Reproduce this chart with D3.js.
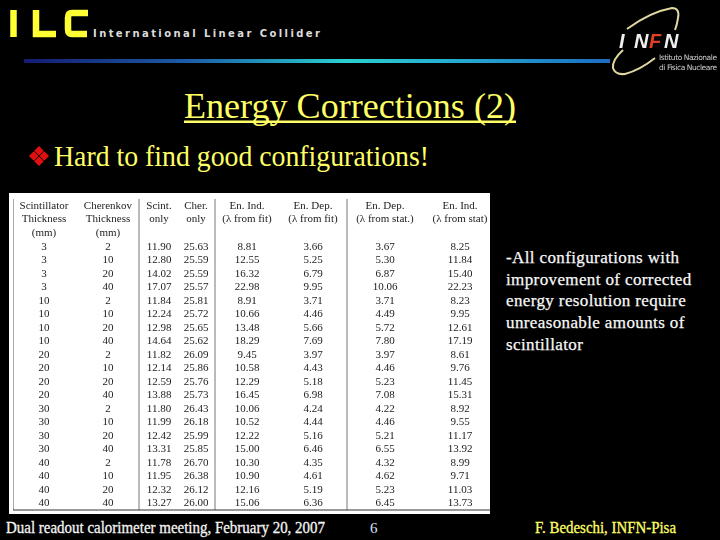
<!DOCTYPE html>
<html>
<head>
<meta charset="utf-8">
<script src="https://cdn.jsdelivr.net/npm/d3@7"></script>
<style>
html, body { margin: 0; padding: 0; background: #000; }
svg { display: block; }
text { font-family: "Liberation Serif", serif; }
</style>
</head>
<body>
<svg id="slide" width="720" height="540"></svg>
<script>
var scintThickness = [3, 3, 3, 3, 10, 10, 10, 10, 20, 20, 20, 20, 30, 30, 30, 30, 40, 40, 40, 40]
var cherThickness = [2, 10, 20, 40, 2, 10, 20, 40, 2, 10, 20, 40, 2, 10, 20, 40, 2, 10, 20, 40]
var scintOnly = ["11.90", "12.80", "14.02", "17.07", "11.84", "12.24", "12.98", "14.64", "11.82", "12.14", "12.59", "13.88", "11.80", "11.99", "12.42", "13.31", "11.78", "11.95", "12.32", "13.27"]
var cherOnly = ["25.63", "25.59", "25.59", "25.57", "25.81", "25.72", "25.65", "25.62", "26.09", "25.86", "25.76", "25.73", "26.43", "26.18", "25.99", "25.85", "26.70", "26.38", "26.12", "26.00"]
var enIndFit = ["8.81", "12.55", "16.32", "22.98", "8.91", "10.66", "13.48", "18.29", "9.45", "10.58", "12.29", "16.45", "10.06", "10.52", "12.22", "15.00", "10.30", "10.90", "12.16", "15.06"]
var enDepFit = ["3.66", "5.25", "6.79", "9.95", "3.71", "4.46", "5.66", "7.69", "3.97", "4.43", "5.18", "6.98", "4.24", "4.44", "5.16", "6.46", "4.35", "4.61", "5.19", "6.36"]
var enDepStat = ["3.67", "5.30", "6.87", "10.06", "3.71", "4.49", "5.72", "7.80", "3.97", "4.46", "5.23", "7.08", "4.22", "4.46", "5.21", "6.55", "4.32", "4.62", "5.23", "6.45"]
var enIndStat = ["8.25", "11.84", "15.40", "22.23", "8.23", "9.95", "12.61", "17.19", "8.61", "9.76", "11.45", "15.31", "8.92", "9.55", "11.17", "13.92", "8.99", "9.71", "11.03", "13.73"]

var columns = [scintThickness, cherThickness, scintOnly, cherOnly, enIndFit, enDepFit, enDepStat, enIndStat]
var headers = [
    ["Scintillator", "Thickness", "(mm)"],
    ["Cherenkov", "Thickness", "(mm)"],
    ["Scint.", "only"],
    ["Cher.", "only"],
    ["En. Ind.", "(\u03bb from fit)"],
    ["En. Dep.", "(\u03bb from fit)"],
    ["En. Dep.", "(\u03bb from stat.)"],
    ["En. Ind.", "(\u03bb from stat)"]
]
var bodyLines = ["-All configurations with", "improvement of corrected", "energy resolution require", "unreasonable amounts of", "scintillator"]

var svg = d3.select("#slide")
var defs = svg.append("defs")

var grad = defs.append("linearGradient").attr("id", "bar")
grad.append("stop").attr("offset", "0").attr("stop-color", "#141c70")
grad.append("stop").attr("offset", "0.28").attr("stop-color", "#1c5ca8")
grad.append("stop").attr("offset", "0.55").attr("stop-color", "#2ad0d0")
grad.append("stop").attr("offset", "0.75").attr("stop-color", "#26a8d0")
grad.append("stop").attr("offset", "1").attr("stop-color", "#1c6cc0")

defs.append("filter").attr("id", "soft")
    .append("feGaussianBlur").attr("stdDeviation", 0.35)

// header
var ilc = svg.append("g").attr("fill", "none").attr("stroke", "#ffff33").attr("stroke-width", 6.5)
ilc.append("path").attr("d", "M13.5 10V37")
ilc.append("path").attr("d", "M36 10V34H56")
ilc.append("path").attr("d", "M88 13H72Q68 13 68 18V29Q68 34 72 34H87")

svg.append("text").attr("x", 93).attr("y", 37)
    .attr("fill", "#dcdcdc")
    .attr("font-size", 10).attr("font-weight", "bold")
    .style("font-family", "DejaVu Sans")
    .attr("textLength", 227)
    .text("International Linear Collider")

svg.append("rect").attr("x", 24).attr("y", 59).attr("width", 586).attr("height", 4).attr("fill", "url(#bar)")

// INFN logo
var logo = svg.append("g").attr("filter", "url(#soft)")
logo.append("path").attr("fill", "none").attr("stroke", "#e0d8a0").attr("stroke-width", 2)
    .attr("d", "M627 29Q650 12 672 8Q680 8 678 18Q677 25 675 30")
logo.append("path").attr("fill", "none").attr("stroke", "#e0d8a0").attr("stroke-width", 2)
    .attr("d", "M623 50Q612 60 613 68Q615 75 625 74Q640 70 655 58")
var infnLetters = ["I", "N", "F", "N"]
var infnX = d3.scalePoint().domain(d3.range(4)).range([619, 664])
logo.selectAll("text.infn").data(infnLetters).enter().append("text")
    .attr("class", "infn")
    .attr("x", function(d, i) { return infnX(i) })
    .attr("y", 48)
    .attr("font-size", 20).attr("font-weight", "bold").attr("font-style", "italic")
    .style("font-family", "Liberation Sans")
    .attr("fill", function(d, i) { return i == 2 ? "#e04020" : "#f0f0f0" })
    .text(function(d) { return d })
logo.append("text").attr("x", 659).attr("y", 60).attr("font-size", 7.5).attr("fill", "#d0d0d0")
    .style("font-family", "DejaVu Sans").attr("textLength", 58).text("Istituto Nazionale")
logo.append("text").attr("x", 659).attr("y", 70).attr("font-size", 7.5).attr("fill", "#d0d0d0")
    .style("font-family", "DejaVu Sans").attr("textLength", 58).text("di Fisica Nucleare")

// title
svg.append("text").attr("x", 184).attr("y", 118)
    .attr("font-size", 36).attr("fill", "#ffff66")
    .attr("textLength", 332).attr("lengthAdjust", "spacingAndGlyphs")
    .text("Energy Corrections (2)")
svg.append("rect").attr("x", 184).attr("y", 120.5).attr("width", 332).attr("height", 2.5).attr("fill", "#ffff66")

// bullet
var bullet = d3.symbol().type(d3.symbolSquare).size(46)
svg.selectAll("path.bullet").data([[0, -5.2], [-5.2, 0], [5.2, 0], [0, 5.2]]).enter().append("path")
    .attr("class", "bullet")
    .attr("d", bullet)
    .attr("fill", "#e01010")
    .attr("transform", function(d) { return "translate(" + (39 + d[0]) + "," + (156 + d[1]) + ") rotate(45)" })
svg.append("text").attr("x", 54).attr("y", 166)
    .attr("font-size", 29).attr("fill", "#ffff66")
    .attr("textLength", 375).attr("lengthAdjust", "spacingAndGlyphs")
    .text("Hard to find good configurations!")

// table
svg.append("rect").attr("x", 9).attr("y", 193).attr("width", 481).attr("height", 321).attr("fill", "#fff")

var rowY = d3.scalePoint().domain(d3.range(scintThickness.length)).range([250, 506])
var colX = d3.scaleOrdinal().domain(d3.range(columns.length)).range([44, 108, 159, 196, 247, 313, 385, 460])
var headerY = d3.scaleOrdinal().domain([0, 1, 2]).range([209, 222, 236])

var table = svg.append("g").attr("filter", "url(#soft)")

table.selectAll("line.sep").data([139, 215, 347]).enter().append("line")
    .attr("class", "sep")
    .attr("x1", function(d) { return d }).attr("x2", function(d) { return d })
    .attr("y1", 199).attr("y2", 510)
    .attr("stroke", "#777").attr("stroke-width", 1)
table.append("line").attr("x1", 13.5).attr("x2", 13.5).attr("y1", 199).attr("y2", 510)
    .attr("stroke", "#aaa").attr("stroke-width", 1)
table.append("line").attr("x1", 13).attr("x2", 490).attr("y1", 510).attr("y2", 510)
    .attr("stroke", "#333").attr("stroke-width", 1)

var headCols = table.selectAll("g.head").data(headers).enter().append("g").attr("class", "head")
headCols.selectAll("text")
    .data(function(d, i) { return d.map(function(s, j) { return { s: s, col: i, line: j } }) })
    .enter().append("text")
    .attr("x", function(d) { return colX(d.col) })
    .attr("y", function(d) { return headerY(d.line) })
    .attr("text-anchor", "middle")
    .attr("font-size", 11).attr("fill", "#222")
    .text(function(d) { return d.s })

var valCols = table.selectAll("g.col").data(columns).enter().append("g").attr("class", "col")
valCols.selectAll("text")
    .data(function(d, i) { return d.map(function(v, r) { return { v: v, col: i, row: r } }) })
    .enter().append("text")
    .attr("x", function(d) { return colX(d.col) })
    .attr("y", function(d) { return rowY(d.row) })
    .attr("text-anchor", "middle")
    .attr("font-size", 11).attr("fill", "#222")
    .text(function(d) { return d.v })

// side text
var bodyY = d3.scalePoint().domain(d3.range(bodyLines.length)).range([263, 349.5])
svg.selectAll("text.body").data(bodyLines).enter().append("text")
    .attr("class", "body")
    .attr("x", 506)
    .attr("y", function(d, i) { return bodyY(i) })
    .attr("font-size", 17).attr("fill", "#f8f8f8")
    .attr("stroke", "#f8f8f8").attr("stroke-width", 0.25)
    .style("letter-spacing", "0.38px")
    .text(function(d) { return d })

// footer
svg.append("text").attr("x", 6).attr("y", 533)
    .attr("font-size", 16).attr("fill", "#f4f4f4")
    .attr("stroke", "#f4f4f4").attr("stroke-width", 0.3)
    .attr("textLength", 319).attr("lengthAdjust", "spacingAndGlyphs")
    .text("Dual readout calorimeter meeting, February 20, 2007")
svg.append("text").attr("x", 370).attr("y", 533)
    .attr("font-size", 15).attr("fill", "#d8e0ff")
    .text("6")
svg.append("text").attr("x", 535).attr("y", 533)
    .attr("font-size", 16).attr("fill", "#ffff66")
    .attr("stroke", "#ffff66").attr("stroke-width", 0.3)
    .attr("textLength", 141).attr("lengthAdjust", "spacingAndGlyphs")
    .text("F. Bedeschi, INFN-Pisa")
</script>
</body>
</html>
